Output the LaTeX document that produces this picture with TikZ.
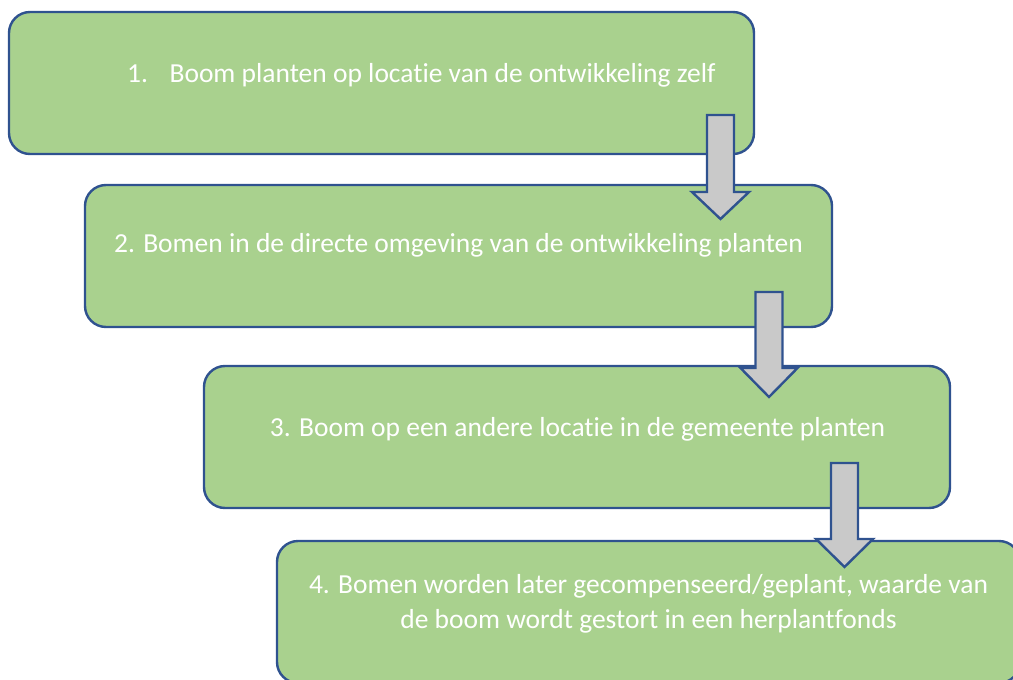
\documentclass[tikz,border=0pt]{standalone}
\usepackage{fontspec}
\setmainfont{Carlito}[Ligatures=NoCommon]
\definecolor{boxgreen}{HTML}{A9D18E}
\definecolor{boxblue}{HTML}{2F528F}
\definecolor{arrgray}{HTML}{C9C9C9}
\tikzset{
  stepbox/.style={rectangle, rounded corners=21pt, draw=boxblue, fill=boxgreen,
    line width=2.4pt, inner sep=0pt, minimum width=745pt, minimum height=142pt},
  steptext/.style={text=white, font=\fontsize{27.5}{35}\selectfont, inner sep=0pt, align=center},
  arrowst/.style={draw=boxblue, fill=arrgray, line width=2.4pt}
}
\newcommand{\flowarr}[4]{\draw[arrowst] (#1-13.5,#2) -- (#1+13.5,#2) -- (#1+13.5,#3) -- (#1+28.5,#3) -- (#1,#4) -- (#1-28.5,#3) -- (#1-13.5,#3) -- cycle;}
\begin{document}
\begin{tikzpicture}[x=1pt,y=-1pt]
\useasboundingbox (0,0) rectangle (1013,680);
\clip (0,0) rectangle (1013,680);
\node[stepbox] (b1) at (381.5,83) {};
\node[stepbox, minimum width=747pt] (b2) at (458.5,256) {};
\node[stepbox, minimum width=746pt] (b3) at (577,437) {};
\node[stepbox, minimum width=743pt] (b4) at (648.5,612) {};
\node[steptext, anchor=base west] (t1) at (127,82) {1.\hspace{21.5pt}Boom planten op locatie van de ontwikkeling zelf};
\node[steptext, anchor=base] (t2) at (458.5,252) {2. Bomen in de directe omgeving van de ontwikkeling planten};
\node[steptext, anchor=base] (t3) at (577.5,436) {3. Boom op een andere locatie in de gemeente planten};
\node[steptext, anchor=base] (t4) at (648.5,628) {4. Bomen worden later gecompenseerd/geplant, waarde van\\de boom wordt gestort in een herplantfonds};
\flowarr{720.5}{115}{192}{219}
\flowarr{769}{292}{368}{397}
\flowarr{844.5}{463}{539}{567}
\end{tikzpicture}
\end{document}
